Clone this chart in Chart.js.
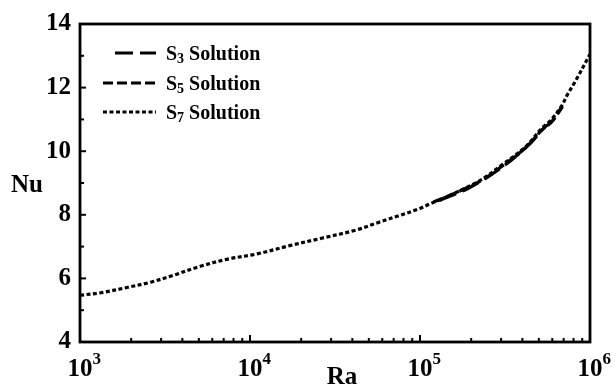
<!DOCTYPE html>
<html>
<head>
<meta charset="utf-8">
<script src="https://cdn.jsdelivr.net/npm/chart.js@4/dist/chart.umd.min.js"></script>
<style>
  html, body { margin: 0; padding: 0; background: #fff; }
  #wrap { width: 615px; height: 390px; }
</style>
</head>
<body>
<div id="wrap"><canvas id="nuChart" width="615" height="390"></canvas></div>
<script>
// Nu vs Ra, three truncation orders
const raS7 = [1000, 1330, 1910, 2600, 3550, 5100, 7300, 11000, 17100, 26700, 42000, 57000, 75000,
              100000, 113000, 163000, 230000, 300000, 420000, 520000, 590000, 680000, 740000, 820000, 1000000];
const nuS7 = [5.47, 5.55, 5.72, 5.88, 6.1, 6.38, 6.6, 6.77, 7.03, 7.27, 7.52, 7.76, 7.97,
              8.2, 8.33, 8.7, 9.11, 9.55, 10.15, 10.72, 10.98, 11.42, 11.8, 12.2, 13.05];

const raS5 = [120000, 170000, 240000, 320000, 420000, 520000, 600000, 690000];
const nuS5 = [8.4, 8.74, 9.14, 9.62, 10.12, 10.66, 10.95, 11.4];

const raS3 = [130000, 190000, 260000, 350000, 450000, 540000, 590000, 680000];
const nuS3 = [8.45, 8.82, 9.25, 9.75, 10.27, 10.75, 10.9, 11.38];

const yTicks = [4, 6, 8, 10, 12, 14];
const xDecades = [3, 4, 5, 6];

const SERIF = '"Liberation Serif", "Times New Roman", serif';

function toPoints(xs, ys) {
  return xs.map((x, i) => ({ x: x, y: ys[i] }));
}

const seriesList = [
  { label: 'S', sub: '3', rest: ' Solution', data: toPoints(raS3, nuS3), dash: [18, 7] },
  { label: 'S', sub: '5', rest: ' Solution', data: toPoints(raS5, nuS5), dash: [10, 4] },
  { label: 'S', sub: '7', rest: ' Solution', data: toPoints(raS7, nuS7), dash: [4, 2.5] }
];

// frame, inward ticks, decade labels, axis titles and legend
const decorPlugin = {
  id: 'decor',
  afterDraw(chart) {
    const ctx = chart.ctx;
    const a = chart.chartArea;
    const xs = chart.scales.x;
    const ys = chart.scales.y;
    ctx.save();
    ctx.strokeStyle = '#000';
    ctx.fillStyle = '#000';

    // box
    ctx.lineWidth = 2.8;
    ctx.strokeRect(a.left, a.top, a.right - a.left, a.bottom - a.top);

    // y ticks (major on labelled values, minor in between)
    ctx.lineWidth = 2;
    for (let v = 4; v <= 14; v++) {
      const y = ys.getPixelForValue(v);
      const len = v % 2 === 0 ? 6 : 4;
      ctx.beginPath();
      ctx.moveTo(a.left, y);
      ctx.lineTo(a.left + len, y);
      ctx.stroke();
    }

    // x ticks on the log axis
    for (let d = 3; d < 6; d++) {
      for (let m = 1; m <= 9; m++) {
        const v = m * Math.pow(10, d);
        const x = xs.getPixelForValue(v);
        const len = m === 1 ? 7 : 4;
        ctx.beginPath();
        ctx.moveTo(x, a.bottom);
        ctx.lineTo(x, a.bottom - len);
        ctx.stroke();
      }
    }

    // decade labels 10^n
    ctx.textBaseline = 'alphabetic';
    xDecades.forEach(n => {
      const x = xs.getPixelForValue(Math.pow(10, n));
      ctx.font = 'bold 25px ' + SERIF;
      ctx.textAlign = 'center';
      ctx.fillText('10', x, a.bottom + 34);
      const w = ctx.measureText('10').width;
      ctx.font = 'bold 17px ' + SERIF;
      ctx.textAlign = 'left';
      ctx.fillText(String(n), x + w / 2, a.bottom + 22);
    });

    // axis titles
    ctx.font = 'bold 25px ' + SERIF;
    ctx.textAlign = 'center';
    ctx.fillText('Ra', (a.left + a.right) / 2 + 7, a.bottom + 42);
    ctx.fillText('Nu', 27, 192);

    // legend
    const rowY = [53, 83, 112];
    const sampleStart = [115, 103, 103];
    seriesList.forEach((s, i) => {
      const y = rowY[i];
      ctx.lineWidth = 3;
      ctx.setLineDash(s.dash);
      ctx.beginPath();
      ctx.moveTo(sampleStart[i], y);
      ctx.lineTo(156, y);
      ctx.stroke();
      ctx.setLineDash([]);

      ctx.textAlign = 'left';
      ctx.textBaseline = 'alphabetic';
      let tx = 166;
      const base = y + 7;
      ctx.font = 'bold 20px ' + SERIF;
      ctx.fillText(s.label, tx, base);
      tx += ctx.measureText(s.label).width;
      ctx.font = 'bold 14px ' + SERIF;
      ctx.fillText(s.sub, tx, base + 3);
      tx += ctx.measureText(s.sub).width;
      ctx.font = 'bold 20px ' + SERIF;
      ctx.fillText(s.rest, tx, base);
    });
    ctx.restore();
  }
};

new Chart(document.getElementById('nuChart').getContext('2d'), {
  type: 'line',
  data: {
    datasets: seriesList.map(s => ({
      label: s.label + s.sub + s.rest,
      data: s.data,
      borderColor: '#000',
      borderWidth: 3.2,
      borderDash: s.dash,
      pointRadius: 0,
      tension: 0.35,
      fill: false
    }))
  },
  options: {
    responsive: false,
    animation: false,
    events: [],
    layout: { padding: { top: 22, right: 25, left: 0, bottom: 0 } },
    plugins: {
      legend: { display: false },
      tooltip: { enabled: false }
    },
    scales: {
      x: {
        type: 'logarithmic',
        min: 1000,
        max: 1000000,
        ticks: { display: false },
        grid: { display: false, drawTicks: false },
        border: { display: false },
        afterFit: s => { s.height = 48; }
      },
      y: {
        type: 'linear',
        min: 4,
        max: 14,
        afterBuildTicks: s => { s.ticks = yTicks.map(v => ({ value: v })); },
        ticks: {
          color: '#000',
          padding: 9,
          font: { family: SERIF, size: 25, weight: 'bold' }
        },
        grid: { display: false, drawTicks: false },
        border: { display: false },
        afterFit: s => { s.width = 80; }
      }
    }
  },
  plugins: [decorPlugin]
});
</script>
</body>
</html>
